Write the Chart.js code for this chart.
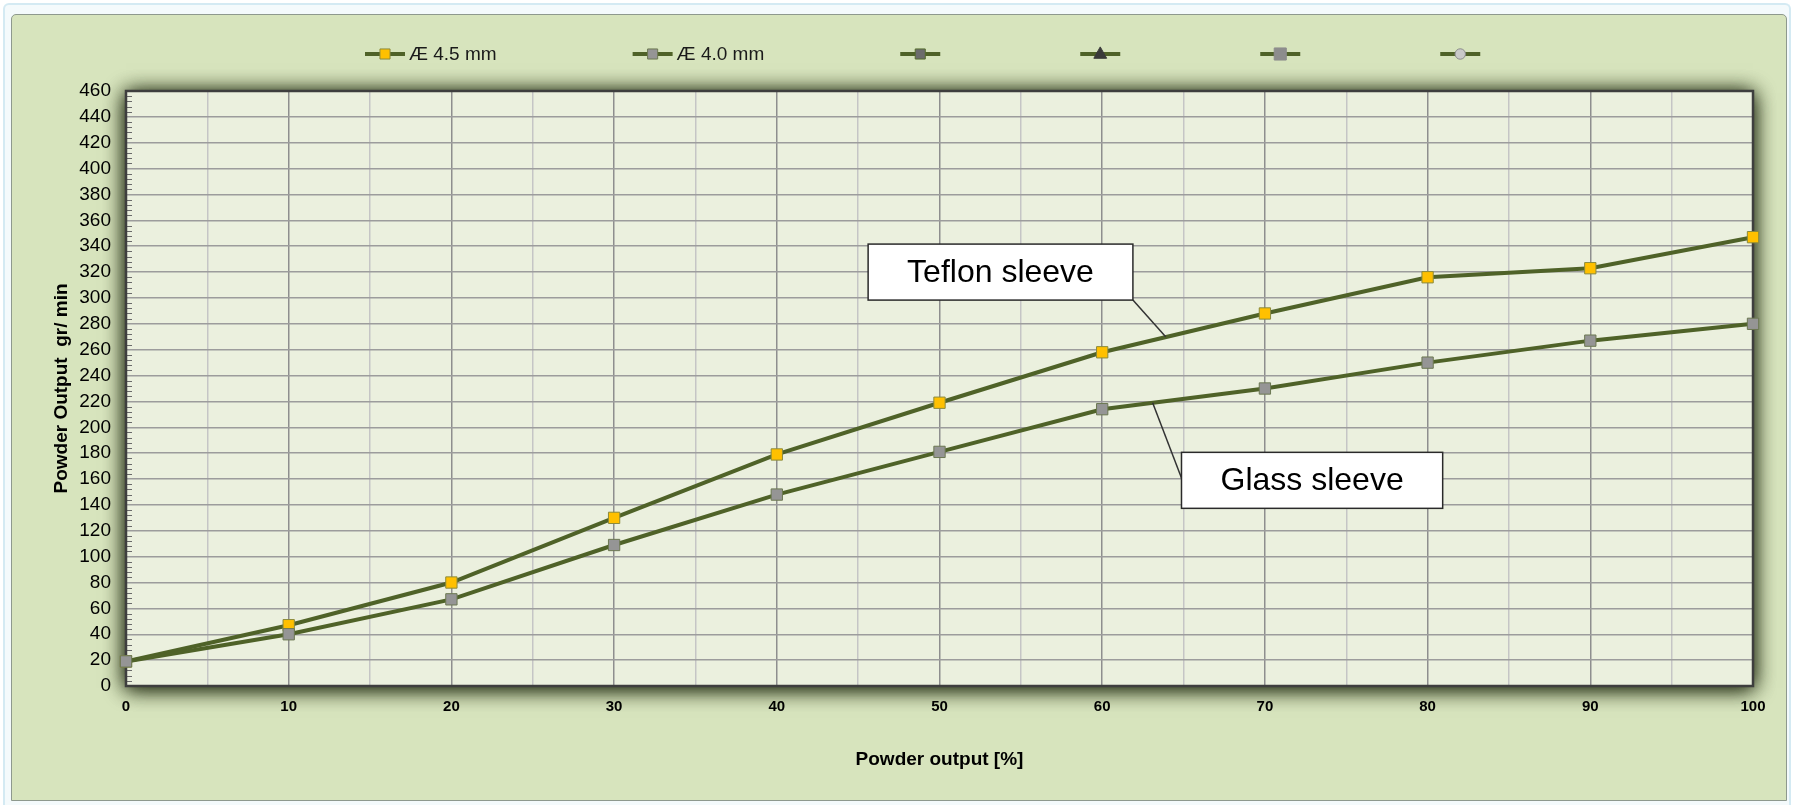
<!DOCTYPE html>
<html>
<head>
<meta charset="utf-8">
<script src="https://cdn.jsdelivr.net/npm/chart.js@4.4.1/dist/chart.umd.min.js"></script>
<style>
  html, body { margin: 0; padding: 0; background: #ffffff; }
  body { width: 1793px; height: 805px; position: relative; overflow: hidden; }
  #outer { position: absolute; left: 3px; top: 3px; width: 1788px; height: 802px; box-sizing: border-box;
           border: 2px solid #d4eaf3; border-bottom: none; border-radius: 6px 6px 0 0; background: #f4fafc; }
  #panel { position: absolute; left: 11px; top: 14px; width: 1776px; height: 787px; box-sizing: border-box;
           background: #d7e4bd; border: 1px solid #8e998e; border-radius: 5px 5px 0 0; }
  #wrap { position: absolute; left: 0; top: 0; width: 1793px; height: 805px; }
</style>
</head>
<body>
<div id="outer"></div>
<div id="panel"></div>
<div id="wrap"><canvas id="powderChart" width="1793" height="805"></canvas></div>
<script>
// powder output setting, %
const powderOutput = [0, 10, 20, 30, 40, 50, 60, 70, 80, 90, 100]
// powder output, gr/min
const teflonSleeve = [19, 47, 80, 130, 179, 219, 258, 288, 316, 323, 347]
const glassSleeve = [19, 40, 67, 109, 148, 181, 214, 230, 250, 267, 280]
const seriesNames = ["Æ 4.5 mm", "Æ 4.0 mm", "", "", "", ""]

// callouts: text, box centre (data units), point the leader goes to
const calloutText = ["Teflon sleeve", "Glass sleeve"]
const calloutBox = [[53.75, 320], [72.9, 159]]
const calloutTarget = [[63.9, 270], [63.1, 219]]
const calloutAttach = [[1, 1], [0, 0.46]]

const FONT = "'Liberation Sans', Arial, sans-serif"
const OLIVE = '#4f6228'

function toPoints(xs, ys) {
	return xs.map((x, i) => ({ x: x, y: ys[i] }))
}

function createLineDataset(label, data, fill, border, style, radius, order) {
	return {
		label: label,
		data: data,
		order: order,
		clip: false,
		borderColor: OLIVE,
		borderWidth: 4,
		tension: 0,
		pointStyle: style,
		pointRadius: radius,
		pointBackgroundColor: fill,
		pointBorderColor: border,
		pointBorderWidth: 1,
		fill: false,
	}
}

const datasets = [
	createLineDataset(seriesNames[0], toPoints(powderOutput, teflonSleeve), '#ffc000', '#8a8a3c', 'rect', 8, 1),
	createLineDataset(seriesNames[1], toPoints(powderOutput, glassSleeve), '#959595', '#6c7852', 'rect', 8, 0),
	createLineDataset(seriesNames[2], [], '#6c6c6c', '#556b2f', 'rect', 7.5, 2),
	createLineDataset(seriesNames[3], [], '#3a3a3a', '#3a3a3a', 'triangle', 7.5, 3),
	createLineDataset(seriesNames[4], [], '#8d8d8d', '#8d8d8d', 'rect', 9, 4),
	createLineDataset(seriesNames[5], [], '#c9c9c9', '#8a8a8a', 'circle', 5.5, 5),
]

// plot background with its heavy soft shadow, minor ticks and dark frame
const plotFrame = {
	id: 'plotFrame',
	beforeDraw(chart) {
		const { ctx, chartArea: a } = chart
		ctx.save()
		ctx.shadowColor = 'rgba(45, 55, 28, 1)'
		ctx.shadowBlur = 20
		ctx.shadowOffsetY = 2
		ctx.fillStyle = '#ebf0de'
		ctx.fillRect(a.left, a.top, a.width, a.height)
		ctx.fillRect(a.left, a.top, a.width, a.height)
		ctx.restore()
	},
	beforeDatasetsDraw(chart) {
		const { ctx, chartArea: a, scales: { y } } = chart
		ctx.save()
		ctx.strokeStyle = '#6a6a6a'
		ctx.lineWidth = 1
		for (let v = y.min; v <= y.max; v += 4) {
			if (v % 20 === 0) continue
			const py = Math.round(y.getPixelForValue(v)) + 0.5
			ctx.beginPath()
			ctx.moveTo(a.left, py)
			ctx.lineTo(a.left + 6, py)
			ctx.stroke()
		}
		ctx.strokeStyle = '#3e3e3e'
		ctx.lineWidth = 2.5
		ctx.strokeRect(a.left, a.top, a.width, a.height)
		ctx.restore()
	}
}

const callouts = {
	id: 'callouts',
	afterDatasetsDraw(chart) {
		const { ctx, scales: { x, y } } = chart
		ctx.save()
		ctx.font = '32px ' + FONT
		ctx.textAlign = 'center'
		ctx.textBaseline = 'middle'
		calloutText.forEach((text, i) => {
			const cx = x.getPixelForValue(calloutBox[i][0])
			const cy = y.getPixelForValue(calloutBox[i][1])
			const w = ctx.measureText(text).width + 78
			const h = 56
			const left = cx - w / 2
			const top = cy - h / 2
			const tx = x.getPixelForValue(calloutTarget[i][0])
			const ty = y.getPixelForValue(calloutTarget[i][1])
			ctx.strokeStyle = '#333333'
			ctx.lineWidth = 1.5
			ctx.beginPath()
			ctx.moveTo(left + w * calloutAttach[i][0], top + h * calloutAttach[i][1])
			ctx.lineTo(tx, ty)
			ctx.stroke()
			ctx.fillStyle = '#ffffff'
			ctx.fillRect(left, top, w, h)
			ctx.strokeStyle = '#2a2a2a'
			ctx.strokeRect(left, top, w, h)
			ctx.fillStyle = '#000000'
			ctx.fillText(text, cx, cy + 1)
		})
		ctx.restore()
	}
}

function drawMarker(ctx, style, r, px, py) {
	ctx.beginPath()
	if (style === 'circle') {
		ctx.arc(px, py, r, 0, Math.PI * 2)
	} else if (style === 'triangle') {
		ctx.moveTo(px, py - r)
		ctx.lineTo(px + r * 0.9, py + r * 0.6)
		ctx.lineTo(px - r * 0.9, py + r * 0.6)
		ctx.closePath()
	} else {
		const s = r * Math.SQRT1_2
		ctx.rect(px - s, py - s, 2 * s, 2 * s)
	}
	ctx.fill()
	ctx.stroke()
}

// legend row: line with marker, then the series name
const lineLegend = {
	id: 'lineLegend',
	afterDraw(chart) {
		const { ctx } = chart
		const rowY = 54
		let cursor = 365
		ctx.save()
		ctx.font = '19px ' + FONT
		ctx.textBaseline = 'middle'
		ctx.textAlign = 'left'
		chart.data.datasets.forEach(ds => {
			ctx.strokeStyle = ds.borderColor
			ctx.lineWidth = 4
			ctx.beginPath()
			ctx.moveTo(cursor, rowY)
			ctx.lineTo(cursor + 40, rowY)
			ctx.stroke()
			ctx.fillStyle = ds.pointBackgroundColor
			ctx.strokeStyle = ds.pointBorderColor
			ctx.lineWidth = 1
			drawMarker(ctx, ds.pointStyle, Math.min(ds.pointRadius, 7.5) * 0.95 * (ds.pointRadius > 8 ? 1.2 : 1), cursor + 20, rowY)
			ctx.fillStyle = '#1a1a1a'
			ctx.fillText(ds.label, cursor + 44, rowY + 1)
			cursor += 44 + ctx.measureText(ds.label).width + 136
		})
		ctx.restore()
	}
}

new Chart(document.getElementById('powderChart'), {
	type: 'line',
	data: { datasets: datasets },
	plugins: [plotFrame, callouts, lineLegend],
	options: {
		responsive: false,
		animation: false,
		devicePixelRatio: 1,
		layout: { padding: { left: 0, right: 40, top: 91, bottom: 0 } },
		plugins: {
			legend: { display: false },
			tooltip: { enabled: false },
		},
		scales: {
			x: {
				type: 'linear',
				min: 0,
				max: 100,
				ticks: {
					stepSize: 5,
					autoSkip: false,
					maxRotation: 0,
					padding: 12,
					color: '#000000',
					font: { family: FONT, size: 15, weight: 'bold' },
					callback: v => (v % 10 === 0 ? v : ''),
				},
				grid: {
					color: c => (c.tick && c.tick.value % 10 === 0 ? '#8e8e8e' : '#c5c5c5'),
					lineWidth: 1.5,
					drawTicks: false,
				},
				border: { display: false },
				title: {
					display: true,
					text: 'Powder output [%]',
					color: '#000000',
					font: { family: FONT, size: 19, weight: 'bold' },
					padding: { top: 0, bottom: 34 },
				},
				afterFit: s => { s.height = 119 },
			},
			y: {
				min: 0,
				max: 460,
				ticks: {
					stepSize: 20,
					padding: 15,
					color: '#000000',
					font: { family: FONT, size: 19 },
				},
				grid: { color: '#9c9c9c', lineWidth: 1.5, drawTicks: false },
				border: { display: false },
				title: {
					display: true,
					text: 'Powder Output  gr/ min',
					color: '#000000',
					font: { family: FONT, size: 19, weight: 'bold' },
					padding: { top: 50, bottom: 0 },
				},
				afterFit: s => { s.width = 126 },
			}
		}
	}
})
</script>
</body>
</html>
